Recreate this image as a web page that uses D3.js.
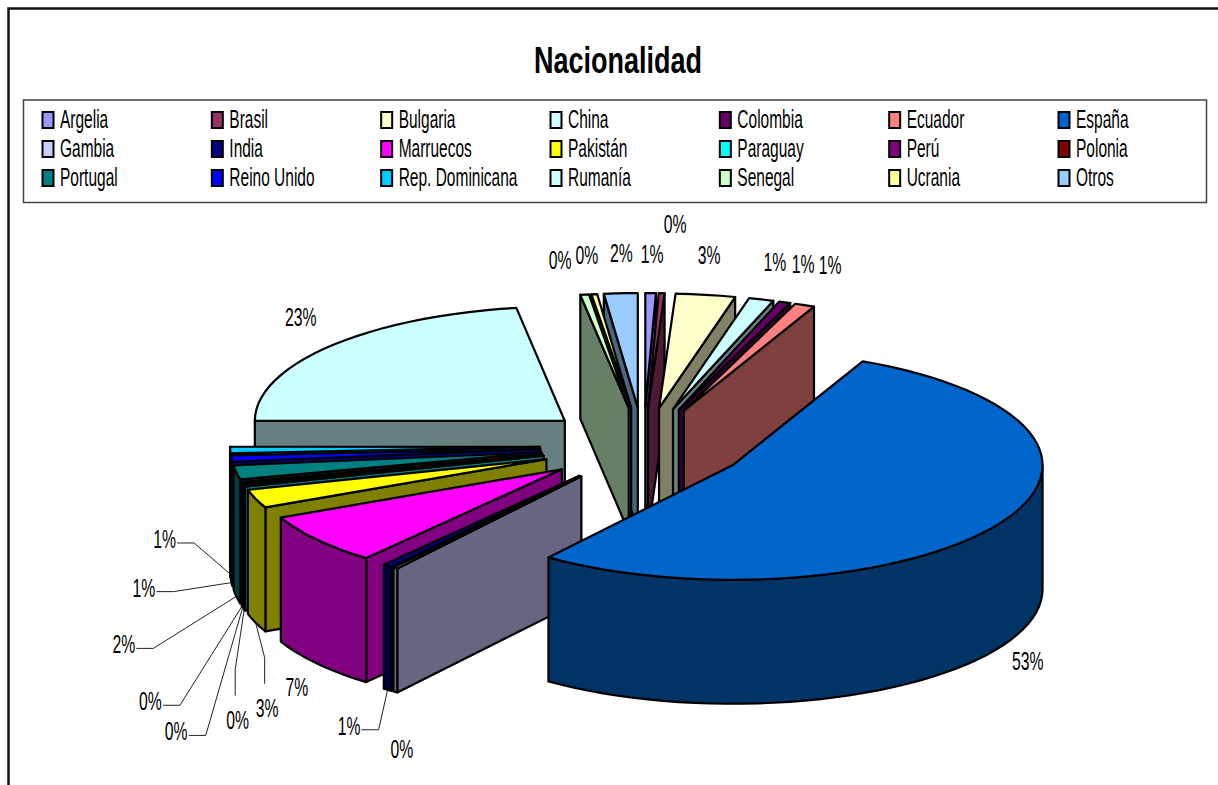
<!DOCTYPE html>
<html>
<head>
<meta charset="utf-8">
<script src="https://cdn.jsdelivr.net/npm/d3@7"></script>
<style>
  html, body { margin: 0; padding: 0; background: #fff; overflow: hidden; }
  text { font-family: "Liberation Sans", Arial, sans-serif; fill: #000; }
</style>
</head>
<body>
<div id="chart"></div>
<script>
const width = 1218
const height = 785

// data, in legend order (clockwise from 12 o'clock)
const paises = ["Argelia", "Brasil", "Bulgaria", "China", "Colombia", "Ecuador", "España",
    "Gambia", "India", "Marruecos", "Pakistán", "Paraguay", "Perú", "Polonia",
    "Portugal", "Reino Unido", "Rep. Dominicana", "Rumanía", "Senegal", "Ucrania", "Otros"]
const valores = [0.55, 0.3, 3.1, 1.3, 0.6, 1.05, 53.25,
    0.25, 0.5, 7.2, 2.6, 0.3, 0.15, 0.1,
    2.0, 0.9, 0.9, 22.5, 0.45, 0.3, 1.75]
const etiquetas = ["1%", "0%", "3%", "1%", "1%", "1%", "53%",
    "0%", "1%", "7%", "3%", "0%", "0%", "0%",
    "2%", "1%", "1%", "23%", "0%", "0%", "2%"]
const colores = ["#9999FF", "#993366", "#FFFFCC", "#CCFFFF", "#660066", "#FF8080", "#0066CC",
    "#CCCCFF", "#000080", "#FF00FF", "#FFFF00", "#00FFFF", "#800080", "#800000",
    "#008080", "#0000FF", "#00CCFF", "#CCFFFF", "#CCFFCC", "#FFFF99", "#99CCFF"]

// label placement: offset from the rim point of each slice, and leader type
const labelOffset = [[0, -38], [12, -68], [2, -39], [12, -36], [17, -37], [24, -39], [27, 138],
    [5, 182], [-40, 161], [-22, 148], [10, 210], [-8, 235], [-68, 249], [-93, 220],
    [-114, 173], [-89, 130], [-67, 90], [-30, -29], [-26, -34], [-9, -38], [-1, -39]]
const leaderTipo = ["", "", "", "", "", "", "",
    "", "h", "", "v", "v", "h", "h",
    "h", "h", "h", "", "", "", ""]

// pie projection
const cx = 643.5, cy = 445.8
const rx = 310, ry = 114.5
const explode = 103.5
const depth = 124
const squash = ry / rx

const svg = d3.select("div#chart").append("svg").attr("width", width).attr("height", height)
    .style("display", "block")

// text is drawn squeezed, the original uses a very narrow face
function texto(parent, str, x, y, size, sx, anchor, weight) {
    return parent.append("text")
        .attr("transform", `translate(${x}, ${y}) scale(${sx}, 1)`)
        .attr("text-anchor", anchor)
        .attr("font-size", size)
        .attr("font-weight", weight || "normal")
        .text(str)
}

// chart frame, runs off the picture right and bottom
svg.append("path")
    .attr("d", d3.line()([[8.5, height], [8.5, 8.5], [width, 8.5]]))
    .attr("fill", "none").attr("stroke", "#111").attr("stroke-width", 2.5)

texto(svg, "Nacionalidad", 618, 73, 37.5, 0.72, "middle", "bold")

// legend
const legendGroup = svg.append("g").attr("class", "legendGroup")
legendGroup.append("rect")
    .attr("x", 23.5).attr("y", 100).attr("width", 1183).attr("height", 102.5)
    .attr("fill", "#fff").attr("stroke", "#444").attr("stroke-width", 1.5)

const columnas = 7
const legendX = d3.scaleLinear().domain([0, columnas - 1]).range([42.5, 1058.5])
const legendY = d3.scaleLinear().domain([0, 2]).range([112, 170])

paises.forEach((p, i) => {
    const col = i % columnas, row = Math.floor(i / columnas)
    legendGroup.append("rect")
        .attr("x", legendX(col)).attr("y", legendY(row))
        .attr("width", 11).attr("height", 16)
        .attr("fill", colores[i]).attr("stroke", "#000").attr("stroke-width", 2)
    texto(legendGroup, p, legendX(col) + 17.5, legendY(row) + 15.5, 25, 0.62, "start")
})

// pie layout
const pie = d3.pie().sort(null).value(d => d.valor)
const datos = paises.map((p, i) => ({ pais: p, valor: valores[i], color: colores[i], etiqueta: etiquetas[i], i: i }))

// side faces are the slice colour at half strength
const mitad = c => {
    const k = d3.rgb(c)
    return d3.rgb(k.r / 2, k.g / 2, k.b / 2)
}

const slices = pie(datos).map(s => {
    const mid = (s.startAngle + s.endAngle) / 2
    return {
        ...s,
        mid: mid,
        dx: explode * Math.sin(mid),
        dy: -explode * squash * Math.cos(mid),
        oscuro: mitad(s.data.color)
    }
})

const punto = (s, a, r, z) => [
    cx + s.dx + r * Math.sin(a),
    cy + s.dy - r * squash * Math.cos(a) + z
]

// arc sampled in steps, the rim of the original is faceted as well
function arco(s, a0, a1, z) {
    const n = Math.max(1, Math.ceil((a1 - a0) / (3 * Math.PI / 180)))
    return d3.range(n + 1).map(k => punto(s, a0 + (a1 - a0) * k / n, rx, z))
}

const line = d3.line()
const closed = pts => line(pts) + "Z"

// paint back to front: lowest front edge of the top face goes last
slices.forEach(s => {
    const pts = [punto(s, 0, 0, 0), ...arco(s, s.startAngle, s.endAngle, 0)]
    s.frente = d3.max(pts, p => p[1])
})
const orden = slices.slice().sort((a, b) => a.frente - b.frente)

const pieGroup = svg.append("g").attr("class", "pieGroup")
    .attr("stroke", "#000").attr("stroke-width", 2.2).attr("stroke-linejoin", "round")

orden.forEach(s => {
    const g = pieGroup.append("g").attr("class", s.data.pais)
    const a0 = s.startAngle, a1 = s.endAngle
    const centro = punto(s, 0, 0, 0), centroAbajo = punto(s, 0, 0, depth)

    // cut faces
    if (Math.sin(a0) < 0) {
        g.append("path").attr("fill", s.oscuro)
            .attr("d", closed([centro, punto(s, a0, rx, 0), punto(s, a0, rx, depth), centroAbajo]))
    }
    if (Math.sin(a1) > 0) {
        g.append("path").attr("fill", s.oscuro)
            .attr("d", closed([centro, punto(s, a1, rx, 0), punto(s, a1, rx, depth), centroAbajo]))
    }

    // outer wall, only the front half of the ellipse shows
    const r0 = Math.max(a0, Math.PI / 2), r1 = Math.min(a1, 3 * Math.PI / 2)
    if (r1 > r0) {
        g.append("path").attr("fill", s.oscuro)
            .attr("d", closed([...arco(s, r0, r1, 0), ...arco(s, r0, r1, depth).reverse()]))
    }

    // top
    g.append("path").attr("fill", s.data.color)
        .attr("d", closed([centro, ...arco(s, a0, a1, 0)]))
})

// labels and leader lines
const labelGroup = svg.append("g").attr("class", "labelGroup")
slices.forEach(s => {
    const i = s.data.i
    const ancla = punto(s, s.mid, rx, 0)
    const lx = ancla[0] + labelOffset[i][0], ly = ancla[1] + labelOffset[i][1]
    texto(labelGroup, s.data.etiqueta, lx + 1.5, ly + 8, 25, 0.63, "middle")

    const fin = punto(s, s.mid, rx, depth)
    let tramo = null
    if (leaderTipo[i] === "h") tramo = [[lx + 14, ly + 3], [lx + 31, ly + 3], fin]
    if (leaderTipo[i] === "v") tramo = [[lx - 1, ly - 25], [lx - 1, ly - 51], fin]
    if (tramo) {
        labelGroup.append("path").attr("d", line(tramo))
            .attr("fill", "none").attr("stroke", "#222").attr("stroke-width", 1)
    }
})
</script>
</body>
</html>
